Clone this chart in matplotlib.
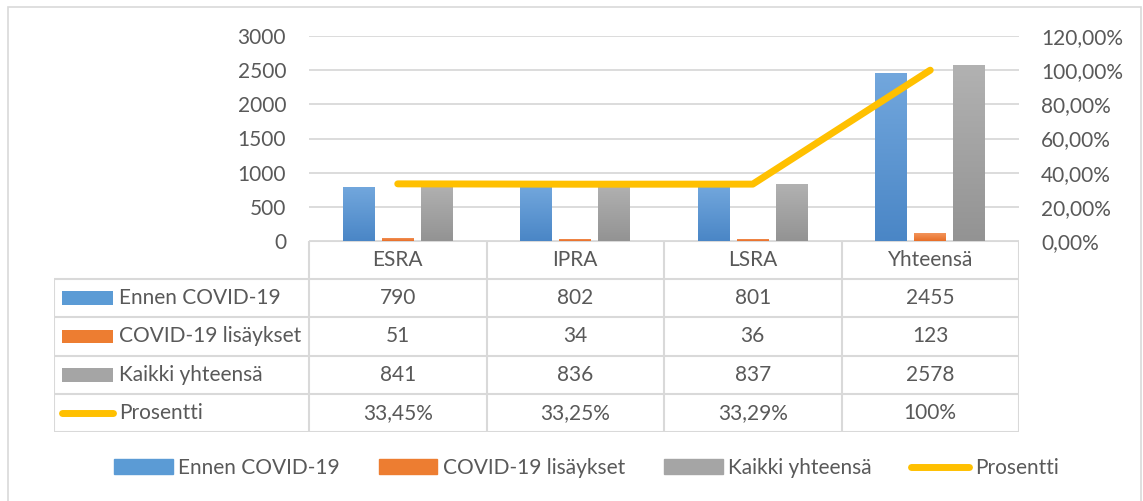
import matplotlib.pyplot as plt
import numpy as np
from matplotlib.colors import LinearSegmentedColormap
from matplotlib.patches import Patch, Rectangle
from matplotlib.lines import Line2D

plt.rcParams['font.family'] = ['Lato', 'DejaVu Sans']

categories = ['ESRA', 'IPRA', 'LSRA', 'Yhteensä']
ennen = [790, 802, 801, 2455]
lisaykset = [51, 34, 36, 123]
kaikki = [841, 836, 837, 2578]
prosentti = [0.3345, 0.3325, 0.3329, 1.0]
prosentti_labels = ['33,45%', '33,25%', '33,29%', '100%']
series_names = ['Ennen COVID-19', 'COVID-19 lisäykset', 'Kaikki yhteensä', 'Prosentti']

TXT = '#595959'
GRID = '#D9D9D9'
FS = 15
W, H = 1143, 501

fig = plt.figure(figsize=(W / 100, H / 100), dpi=100)

def rect(l, t, r, b):
    return [l / W, 1 - b / H, (r - l) / W, (b - t) / H]

# outer frame
fig.add_artist(Rectangle((8 / W, -0.02), (1141 - 8) / W, 1 - 7 / H + 0.02,
                         transform=fig.transFigure, fill=False, ec=GRID, lw=1.2))

ax = fig.add_axes(rect(309, 36, 1019, 241))
x = np.arange(len(categories))
bw = 0.18
off = 0.22

grads = [('#4A86C6', '#72A7DD'), ('#E86E27', '#F49A62'), ('#939393', '#B2B2B2')]
solid = ['#5B9BD5', '#ED7D31', '#A5A5A5']
gvals = np.linspace(0, 1, 256).reshape(-1, 1)
for i, vals in enumerate([ennen, lisaykset, kaikki]):
    bars = ax.bar(x + (i - 1) * off, vals, bw, color=solid[i], zorder=2)
    cmap = LinearSegmentedColormap.from_list('g%d' % i, grads[i])
    for b in bars:
        im = ax.imshow(gvals, cmap=cmap, origin='lower', aspect='auto', zorder=3,
                       extent=[b.get_x(), b.get_x() + b.get_width(), 0, b.get_height()])
        im.set_clip_path(b)

ax.set_xlim(-0.5, 3.5)
ax.set_ylim(0, 3000)
ax.set_yticks(np.arange(0, 3001, 500))
ax.yaxis.grid(True, color=GRID, lw=1.3, zorder=0)
ax.set_axisbelow(True)
ax.set_xticks([])
for s in ax.spines.values():
    s.set_visible(False)
ax.tick_params(axis='y', length=0, pad=16.5, labelsize=FS, labelcolor=TXT)

ax2 = ax.twinx()
ax2.plot(x, prosentti, color='#FFC000', lw=5, solid_capstyle='round', zorder=5)
ax2.set_ylim(0, 1.2)
ax2.set_yticks(np.arange(0, 1.21, 0.2))
ax2.set_yticklabels([('%.2f%%' % (v * 100)).replace('.', ',') for v in np.arange(0, 1.21, 0.2)])
ax2.tick_params(axis='y', length=0, pad=16, labelsize=FS, labelcolor=TXT)
for s in ax2.spines.values():
    s.set_visible(False)

# data table
tb = fig.add_axes(rect(54, 241, 1019, 432))
lab_w = (309 - 54) / 177.5
x0 = -0.5 - lab_w
tb.set_xlim(x0, 3.5)
tb.set_ylim(0, 5)
tb.axis('off')
lk = dict(color=GRID, lw=1.5, solid_capstyle='butt')
tb.plot([-0.5, 3.5], [5, 5], **lk)
for yy in range(0, 5):
    tb.plot([x0, 3.5], [yy, yy], **lk)
tb.plot([x0, x0], [0, 4], **lk)
for xx in np.arange(-0.5, 3.6, 1):
    tb.plot([xx, xx], [0, 5], **lk)

for j, c in enumerate(categories):
    tb.text(j, 4.5, c, ha='center', va='center', fontsize=FS, color=TXT)
rows = [ennen, lisaykset, kaikki, prosentti_labels]
for r, vals in enumerate(rows):
    yc = 3.5 - r
    for j, v in enumerate(vals):
        tb.text(j, yc, str(v), ha='center', va='center', fontsize=FS, color=TXT)
    tb.text(x0 + (119 - 54) / 177.5, yc, series_names[r], ha='left', va='center',
            fontsize=FS, color=TXT)
    sx = x0 + (62 - 54) / 177.5
    sw = 51 / 177.5
    if r < 3:
        tb.add_patch(Rectangle((sx, yc - 0.18), sw, 0.36, color=solid[r], lw=0))
    else:
        tb.plot([sx, sx + sw], [yc, yc], color='#FFC000', lw=5, solid_capstyle='round')

handles = [Patch(color=c) for c in solid] + [Line2D([], [], color='#FFC000', lw=5, solid_capstyle='round')]
leg = fig.legend(handles, series_names, loc='center', bbox_to_anchor=(0.513, 0.066), ncol=4,
                 frameon=False, fontsize=FS, handlelength=2.8, handletextpad=0.25,
                 columnspacing=1.9)
for t in leg.get_texts():
    t.set_color(TXT)

fig.savefig('out.png', dpi=100)
